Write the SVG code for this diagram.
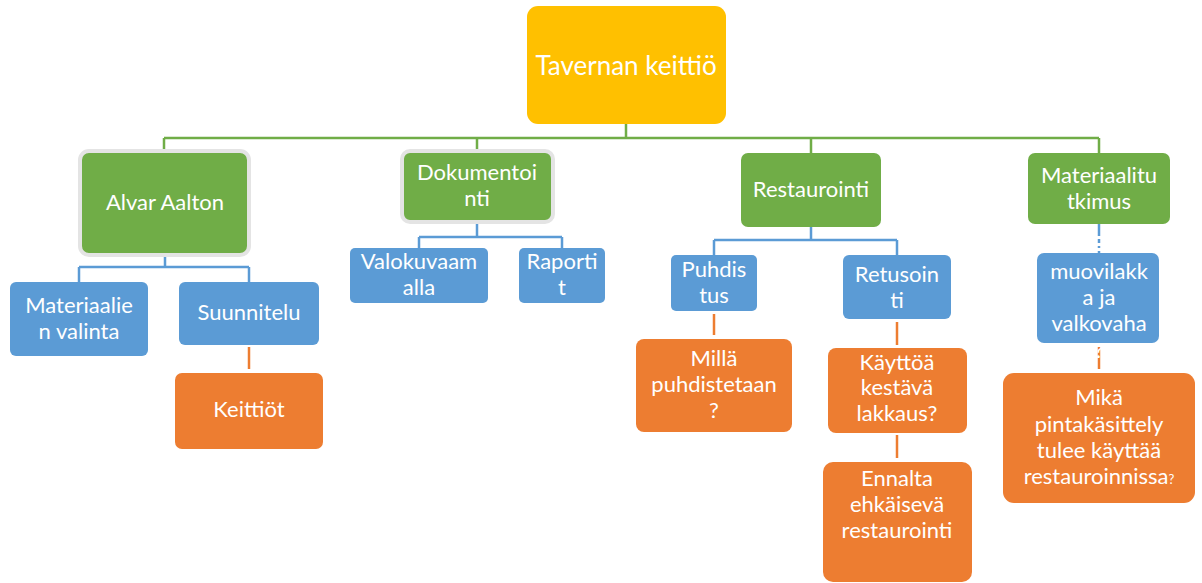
<svg xmlns="http://www.w3.org/2000/svg" width="1202" height="583" viewBox="0 0 1202 583">
<style>
text{font-family:Lato,"Open Sans","Liberation Sans",sans-serif;fill:#fff;text-anchor:middle;font-size:22px}
text.big{font-size:26px}
.root{fill:#FFC000}
.g{fill:#70AD47}
.gb{fill:#70AD47;stroke:#E4E4E4;stroke-width:4}
.b{fill:#5B9BD5}
.o{fill:#ED7D31}
.cg{stroke:#70AD47;stroke-width:2.5;fill:none}
.cb{stroke:#5B9BD5;stroke-width:2.5;fill:none}
.co{stroke:#ED7D31;stroke-width:2.5;fill:none}
</style>
<rect width="1202" height="583" fill="#fff"/>
<g id="connectors">
<path class="cg" d="M626 124V138M164 138H1099M164 138V151M477 138V151M811 138V153M1099 138V153"/>
<path class="cb" d="M165 255V267M79 267H249M79 267V282M249 267V282"/>
<path class="cb" d="M477 222V237M419 237H562M419 237V248M562 237V248"/>
<path class="cb" d="M811 227V240M714 240H897M714 240V255M897 240V255"/>
<path class="cb" d="M1099 224V253" stroke-dasharray="12 3 4 3 2 3"/>
<path class="co" d="M249 347V369"/>
<path class="co" d="M714 314V335"/>
<path class="co" d="M897 322V345"/>
<path class="co" d="M897 435V458"/>
<path class="co" d="M1099 347V369"/>
</g>
<g id="n-root"><rect class="root" x="527" y="6" width="199" height="118" rx="11"/><text class="big" x="626" y="75">Tavernan keittiö</text></g>
<g id="n-alvar"><rect class="gb" x="80" y="151" width="169" height="104" rx="9"/><text x="165" y="210">Alvar Aalton</text></g>
<g id="n-dok"><rect class="gb" x="402" y="151" width="151" height="71" rx="8"/><text x="477" y="180">Dokumentoi</text><text x="477" y="206">nti</text></g>
<g id="n-rest"><rect class="g" x="741" y="153" width="140" height="74" rx="7"/><text x="811" y="197">Restaurointi</text></g>
<g id="n-mattut"><rect class="g" x="1028" y="153" width="142" height="71" rx="7"/><text x="1099" y="183">Materiaalitu</text><text x="1099" y="209">tkimus</text></g>
<g id="n-matval"><rect class="b" x="10" y="282" width="138" height="74" rx="6"/><text x="79" y="313">Materiaalie</text><text x="79" y="339">n valinta</text></g>
<g id="n-suun"><rect class="b" x="179" y="282" width="140" height="63" rx="6"/><text x="249" y="320">Suunnitelu</text></g>
<g id="n-keit"><rect class="o" x="175" y="373" width="148" height="76" rx="7"/><text x="249" y="417">Keittiöt</text></g>
<g id="n-valo"><rect class="b" x="350" y="248" width="138" height="55" rx="5"/><text x="419" y="269">Valokuvaam</text><text x="419" y="295">alla</text></g>
<g id="n-rap"><rect class="b" x="519" y="248" width="86" height="55" rx="5"/><text x="562" y="269">Raporti</text><text x="562" y="295">t</text></g>
<g id="n-puhd"><rect class="b" x="671" y="255" width="86" height="56" rx="5"/><text x="714" y="277">Puhdis</text><text x="714" y="303">tus</text></g>
<g id="n-retu"><rect class="b" x="843" y="255" width="108" height="64" rx="6"/><text x="897" y="282">Retusoin</text><text x="897" y="308">ti</text></g>
<g id="n-milla"><rect class="o" x="636" y="339" width="156" height="93" rx="8"/><text x="714" y="366">Millä</text><text x="714" y="392">puhdistetaan</text><text x="714" y="418">?</text></g>
<g id="n-kaytto"><rect class="o" x="828" y="348" width="139" height="85" rx="8"/><text x="897" y="370">Käyttöä</text><text x="897" y="395">kestävä</text><text x="897" y="421">lakkaus?</text></g>
<g id="n-ennalta"><rect class="o" x="823" y="462" width="149" height="120" rx="10"/><text x="897" y="486">Ennalta</text><text x="897" y="512">ehkäisevä</text><text x="897" y="538">restaurointi</text></g>
<g id="n-muovi"><rect class="b" x="1037" y="253" width="122" height="90" rx="7"/><text x="1099" y="279">muovilakk</text><text x="1099" y="305">a ja</text><text x="1099" y="331">valkovaha</text><text x="1099" y="358">?</text></g>
<g id="n-mika"><rect class="o" x="1003" y="373" width="192" height="130" rx="11"/><text x="1099" y="405">Mikä</text><text x="1099" y="432">pintakäsittely</text><text x="1099" y="458">tulee käyttää</text><text x="1099" y="484">restauroinnissa<tspan font-size="13">?</tspan></text></g>
</svg>
